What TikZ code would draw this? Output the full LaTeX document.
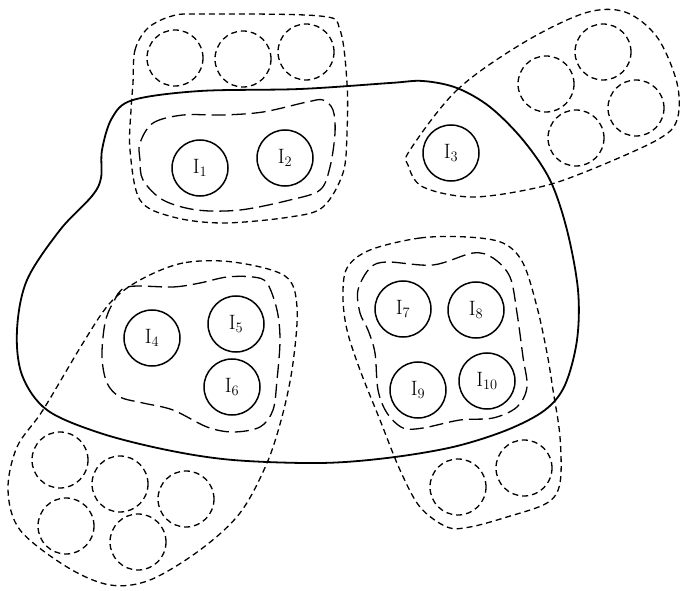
\documentclass[tikz,border=0pt]{standalone}
\usetikzlibrary{positioning}
\begin{document}
\begin{tikzpicture}[x=1pt, y=-1pt,
  item/.style={draw, circle, line width=1.5pt, minimum size=56pt, inner sep=0pt,
               font=\fontsize{22}{26}\selectfont},
  ghost/.style={draw, circle, line width=1.3pt, dash pattern=on 6pt off 4pt,
                minimum size=56pt, inner sep=0pt},
  outer/.style={line width=1.3pt, dash pattern=on 6pt off 4pt},
  inner/.style={line width=1.3pt, dash pattern=on 14pt off 6pt},
  region/.style={line width=1.8pt}
]
  \useasboundingbox (0,0) rectangle (681,591);

  % solid items
  \node[item] (i1)  at (200,168) {$\mathrm{I}_{1}$};
  \node[item] (i2)  at (285,158) {$\mathrm{I}_{2}$};
  \node[item] (i3)  at (451,153) {$\mathrm{I}_{3}$};
  \node[item] (i4)  at (152,338) {$\mathrm{I}_{4}$};
  \node[item] (i5)  at (236,324) {$\mathrm{I}_{5}$};
  \node[item] (i6)  at (232,387) {$\mathrm{I}_{6}$};
  \node[item] (i7)  at (403,309) {$\mathrm{I}_{7}$};
  \node[item] (i8)  at (476,310) {$\mathrm{I}_{8}$};
  \node[item] (i9)  at (418,390) {$\mathrm{I}_{9}$};
  \node[item] (i10) at (487,381) {$\mathrm{I}_{10}$};

  % dashed (outside) items
  \node[ghost] (ta) at (175,58) {};
  \node[ghost] (tb) at (243,59) {};
  \node[ghost] (tc) at (306,52) {};
  \node[ghost] (ra) at (546,84) {};
  \node[ghost] (rb) at (603,52) {};
  \node[ghost] (rc) at (636,108) {};
  \node[ghost] (rd) at (576,138) {};
  \node[ghost] (la) at (60,460) {};
  \node[ghost] (lb) at (120,484) {};
  \node[ghost] (lc) at (186,499) {};
  \node[ghost] (ld) at (66,526) {};
  \node[ghost] (le) at (138,542) {};
  \node[ghost] (ba) at (458,487) {};
  \node[ghost] (bb) at (524,468) {};

  % main region
  \draw[region] plot[smooth cycle, tension=0.55] coordinates {
    (133,100) (200,91) (300,89) (390,83) (423,81) (457,88) (490,107)
    (523,140) (550,180) (567,230) (578,290) (577,340) (565,385) (545,410)
    (507,430) (453,447) (387,458) (320,463) (233,460) (167,450) (100,433)
    (47,410) (22,375) (17,330) (27,280) (60,230) (92,196) (101,178)
    (102,150) (112,118)};

  % outer groups
  \draw[outer] plot[smooth cycle, tension=0.55] coordinates {
    (133,83) (135,50) (148,28) (172,16) (200,14) (320,16) (340,30)
    (347,83) (347,133) (343,173) (323,207) (290,217) (223,223) (173,217)
    (140,200) (130,150) (131,110)};
  \draw[outer] plot[smooth cycle, tension=0.55] coordinates {
    (410,150) (457,90) (523,43) (585,13) (625,12) (657,37) (677,83)
    (677,120) (657,140) (590,170) (540,187) (473,197) (423,187) (408,165)};
  \draw[outer] plot[smooth cycle, tension=0.55] coordinates {
    (233,262) (183,263) (140,280) (110,303) (83,343) (43,410) (17,447)
    (8,490) (20,530) (67,567) (110,585) (150,580) (200,550) (240,513)
    (267,463) (283,413) (293,363) (297,307) (285,276)};
  \draw[outer] plot[smooth cycle, tension=0.55] coordinates {
    (370,250) (420,238) (467,237) (503,243) (523,263) (537,307) (547,353)
    (553,390) (560,437) (560,483) (547,503) (507,517) (470,527) (447,527)
    (420,507) (400,470) (380,420) (360,370) (347,330) (343,297) (347,268)};

  % inner groups
  \draw[inner] plot[smooth cycle, tension=0.55] coordinates {
    (140,143) (153,123) (183,115) (223,115) (263,112) (307,102) (323,100)
    (333,110) (335,133) (330,167) (320,190) (290,200) (240,210) (197,210)
    (163,200) (143,180) (140,160)};
  \draw[inner] plot[smooth cycle, tension=0.55] coordinates {
    (127,287) (173,287) (200,283) (227,277) (253,277) (267,283) (277,310)
    (280,340) (277,380) (273,410) (260,427) (233,432) (207,427) (173,410)
    (143,403) (120,397) (107,383) (102,357) (105,323) (113,303)};
  \draw[inner] plot[smooth cycle, tension=0.55] coordinates {
    (387,262) (433,265) (473,253) (493,258) (510,277) (517,313) (523,357)
    (527,387) (517,407) (493,418) (460,420) (423,428) (403,428) (387,413)
    (378,390) (375,353) (368,330) (360,313) (358,290) (370,268)};
\end{tikzpicture}
\end{document}
